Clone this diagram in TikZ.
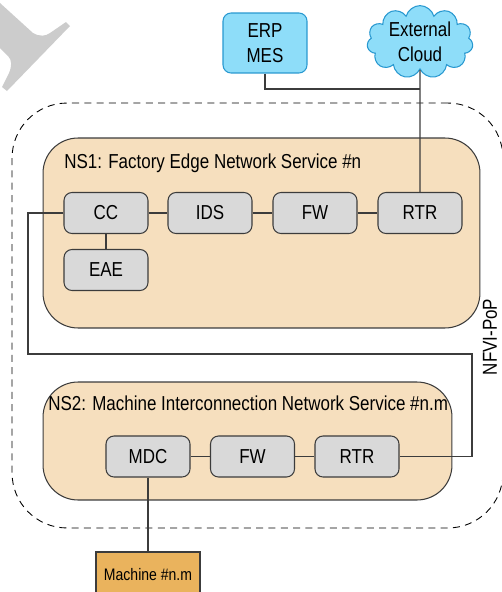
\documentclass[tikz,border=0pt]{standalone}
\usepackage{fontspec}
\setmainfont[FakeStretch=0.84]{Liberation Sans}
\usetikzlibrary{shapes.symbols}

\definecolor{skyfill}{RGB}{142,221,249}
\definecolor{skyline}{RGB}{40,152,208}
\definecolor{nsfill}{RGB}{246,223,190}
\definecolor{vnffill}{RGB}{217,217,217}
\definecolor{boxline}{RGB}{60,60,60}
\definecolor{machfill}{RGB}{234,179,93}
\definecolor{markgray}{RGB}{204,204,204}

\tikzset{
    vnf/.style={draw=boxline, fill=vnffill, rounded corners=0.16cm,
        minimum width=1.68cm, minimum height=0.82cm, line width=0.6pt},
    nsbox/.style={draw=boxline, fill=nsfill, rounded corners=0.7cm, line width=0.6pt},
    link/.style={draw=boxline, line width=0.6pt},
}

\begin{document}
\begin{tikzpicture}[x=0.02cm, y=-0.02cm, font=\fontsize{11.5}{14}\selectfont]
        \useasboundingbox (0,0) rectangle (501,592);
        %% Mark in the corner
        \fill[markgray] (0,3) -- (33,33) .. controls (40,37) and (46,36) .. (50,33)
            -- (66,22) -- (70,26) -- (7,91) -- (2,87) -- (9,73)
            .. controls (12,66) and (12,60) .. (8,56) -- (0,48) -- cycle;
        %% NFVI-PoP
        \node[draw, dashed, dash pattern=on 4pt off 3pt, rounded corners=1.1cm,
            minimum width=9.82cm, minimum height=8.5cm, line width=0.5pt] (pop) at (257.5,315.5) {};
        \node[rotate=90] (poplabel) at (490,337) {NFVI-PoP};
        %% NS1
        \node[nsbox, minimum width=8.74cm, minimum height=3.8cm] (nsone) at (261.5,233) {};
        \node[anchor=west, inner sep=0pt] (nsonetitle) at (64,163) {NS1: Factory Edge Network Service \#n};
        \node[vnf] (cc) at (106,213) {CC};
        \node[vnf] (ids) at (210,213) {IDS};
        \node[vnf] (fwone) at (315,213) {FW};
        \node[vnf] (rtrone) at (420,213) {RTR};
        \node[vnf] (eae) at (106,270) {EAE};
        %% NS2
        \node[nsbox, minimum width=8.18cm, minimum height=2.36cm] (nstwo) at (247.5,441) {};
        \node[anchor=west, inner sep=0pt] (nstwotitle) at (48,403) {NS2: Machine Interconnection Network Service \#n.m};
        \node[vnf] (mdc) at (148,456.5) {MDC};
        \node[vnf] (fwtwo) at (252.5,456.5) {FW};
        \node[vnf] (rtrtwo) at (357,456.5) {RTR};
        %% Outside world
        \node[draw=skyline, fill=skyfill, rounded corners=0.16cm, align=center,
            minimum width=1.68cm, minimum height=1.2cm, line width=0.6pt] (erp) at (265,43) {ERP\\MES};
        \node[cloud, cloud puffs=11, aspect=1.6, draw=skyline, fill=skyfill, align=center,
            minimum width=2.12cm, minimum height=1.36cm, inner sep=0pt, line width=0.6pt] (cloud) at (420,42) {External\\Cloud};
        \node[draw=boxline, fill=machfill, minimum width=2.08cm, minimum height=0.92cm,
            font=\fontsize{9.5}{11}\selectfont, line width=0.6pt] (machine) at (148,575) {Machine \#n.m};
        %% Links
        \coordinate (uplink) at (420,89);
        \coordinate (loopa) at (28,354);
        \coordinate (loopb) at (472,354);
        \foreach \a/\b in {cc/ids,ids/fwone,fwone/rtrone,mdc/fwtwo,fwtwo/rtrtwo} {
            \draw[link] (\a) -- (\b);
        }
        \draw[link] (cc) -- (eae);
        \draw[link] (cloud.south) -- (rtrone.north);
        \draw[link] (erp.south) |- (uplink);
        \draw[link] (cc.west) -| (loopa) -- (loopb) |- (rtrtwo.east);
        \draw[link] (mdc) -- (machine);
    \end{tikzpicture}
\end{document}
